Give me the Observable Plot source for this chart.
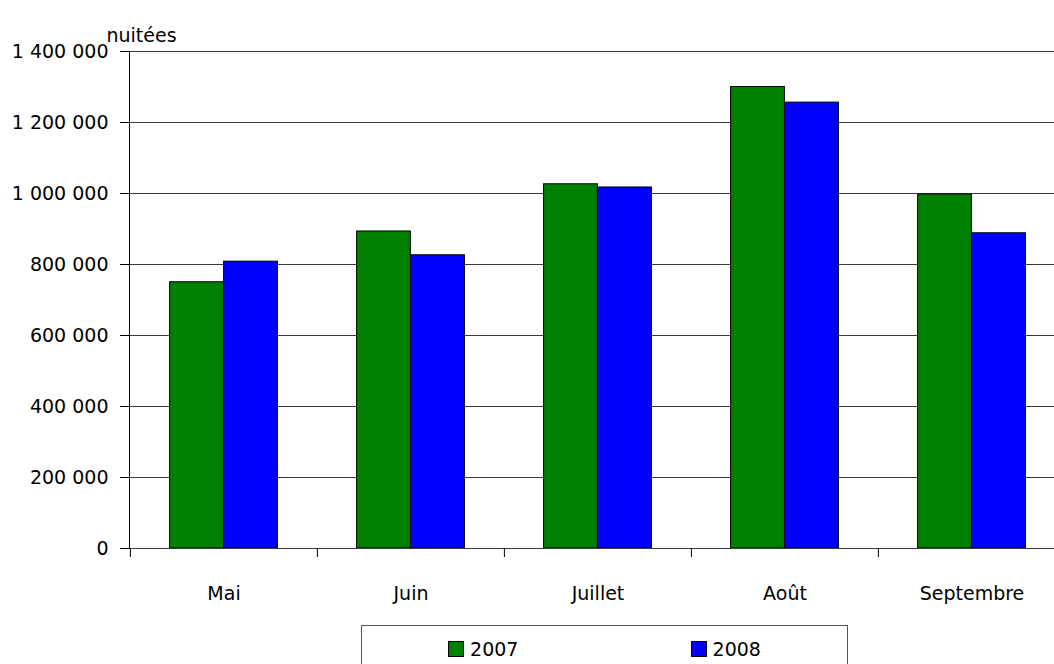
<!DOCTYPE html>
<html>
<head>
<meta charset="utf-8">
<script src="https://cdn.jsdelivr.net/npm/d3@7"></script>
<script src="https://cdn.jsdelivr.net/npm/@observablehq/plot@0.6"></script>
<style>
  html, body { margin: 0; padding: 0; background: #fff; overflow: hidden; }
  #chart { position: relative; width: 1054px; }
</style>
</head>
<body>
<div id="chart"></div>
<script>
// ---- data ----
const months = ["Mai", "Juin", "Juillet", "Août", "Septembre"];
const years = ["2007", "2008"];
const values2007 = [750000, 893000, 1026000, 1300000, 997000];
const values2008 = [808000, 826000, 1017000, 1256000, 888000];
const yTicks = [0, 200000, 400000, 600000, 800000, 1000000, 1200000, 1400000];
const yLabel = "nuitées";
const colors = ["#008000", "#0000ff"];

const seriesValues = [values2007, values2008];
const data = months.flatMap((m, i) => years.map((yr, j) => ({month: m, year: yr, value: seriesValues[j][i]})));

const fmt = d3.formatLocale({thousands: "\u00a0", grouping: [3], decimal: ","}).format(",");

// ---- layout ----
const FONT = "'DejaVu Sans', sans-serif";
const W = 1054, H = 615;
const mL = 129, mR = -11, mT = 51, mB = 67;
const step = (W - mL - mR) / months.length;
const bar = step * 0.2885;
const side = (step - years.length * bar) / 2;

const chart = Plot.plot({
  width: W, height: H,
  marginLeft: mL, marginRight: mR, marginTop: mT, marginBottom: mB,
  style: {fontFamily: FONT, fontSize: "19px", color: "#000", background: "#fff"},
  x: {domain: months, padding: 0, label: null, axis: null},
  y: {domain: [0, 1400000], label: null, axis: null},
  color: {domain: years, range: colors},
  marks: [
    Plot.gridY(yTicks, {stroke: "#3a3a3a", strokeOpacity: 1, strokeWidth: 1}),
    ...years.map((yr, j) => Plot.barY(data.filter(d => d.year === yr), {
      x: "month", y: "value", fill: "year", stroke: "#000", strokeWidth: 1,
      insetLeft: side + j * bar, insetRight: side + (years.length - 1 - j) * bar
    })),
    Plot.ruleY([0], {stroke: "#3a3a3a"}),
    Plot.frame({anchor: "left", stroke: "#000"}),
    Plot.axisY(yTicks, {tickSize: 9, tickPadding: 12, tickFormat: fmt, stroke: "#000", label: null}),
    Plot.axisX({tickSize: 9, tickFormat: () => "", dx: -step / 2, stroke: "#000", label: null}),
    Plot.axisX({tickSize: 0, tickPadding: 38, label: null}),
    Plot.text([yLabel], {frameAnchor: "top-left", text: d => d, dx: 12, dy: -23, textAnchor: "middle"})
  ]
});
document.getElementById("chart").appendChild(chart);

// ---- legend ----
const legend = Plot.legend({color: {domain: years, range: colors}, swatchSize: 16});
legend.style.cssText = "display:flex;justify-content:space-around;align-items:center;box-sizing:border-box;" +
  "margin:10px 0 0 361px;width:487px;height:48px;border:1px solid #555;font-family:" + FONT + ";" +
  "font-size:19px;color:#000;background:#fff;";
legend.querySelectorAll("span").forEach(s => { s.style.margin = "0"; s.style.display = "inline-flex"; s.style.alignItems = "center"; });
legend.querySelectorAll("svg").forEach(s => { s.style.marginRight = "6px"; s.style.overflow = "hidden"; });
legend.querySelectorAll("svg rect").forEach(r => { r.setAttribute("stroke", "#000"); r.setAttribute("stroke-width", "2"); });
document.getElementById("chart").appendChild(legend);
</script>
</body>
</html>
